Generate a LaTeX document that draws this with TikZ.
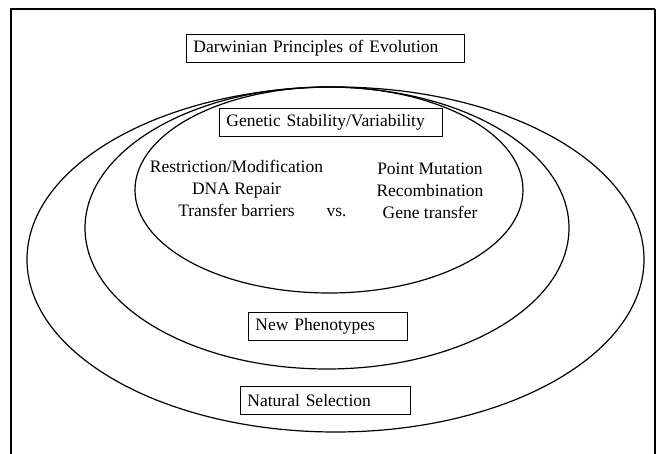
\documentclass[tikz,border=0pt]{standalone}
\usepackage{fontspec}
\setmainfont{Liberation Serif}
\begin{document}
\begin{tikzpicture}[x=1pt,y=-1pt,
  tagbox/.style={draw, line width=0.9pt, anchor=north west, minimum height=28pt,
    inner xsep=7pt, inner ysep=0pt, align=left, text width=#1,
    font=\fontsize{17.5}{21}\selectfont},
  ring/.style={line width=1.2pt},
  listtext/.style={anchor=base, align=center, font=\fontsize{17.5}{22}\selectfont}]
\useasboundingbox (0,0) rectangle (659,454);
\clip (0,0) rectangle (659,454);
\draw[line width=2pt] (11,480) -- (11,9) -- (655,9);
\draw[line width=1.3pt] (655,9) -- (655,480);
\draw[ring] (335.5,259.5) ellipse [x radius=308.5, y radius=172.5];
\draw[ring] (327,228) ellipse [x radius=242, y radius=141];
\draw[ring] (329,190) ellipse [x radius=194, y radius=103];
\node[tagbox=264pt] (darwin) at (186,34) {Darwinian Principles of Evolution};
\node[tagbox=209pt] (genetic) at (219,108) {Genetic Stability/Variability};
\node[listtext] (stable) at (236.5,217) {Restriction/Modification\\DNA Repair\\Transfer barriers};
\node[listtext] (versus) at (336.5,217) {vs.};
\node[listtext] (variable) at (430,219) {Point Mutation\\Recombination\\Gene transfer};
\node[tagbox=145pt] (pheno) at (248,312) {New Phenotypes};
\node[tagbox=156pt] (select) at (240,386) {Natural Selection};
\end{tikzpicture}
\end{document}
